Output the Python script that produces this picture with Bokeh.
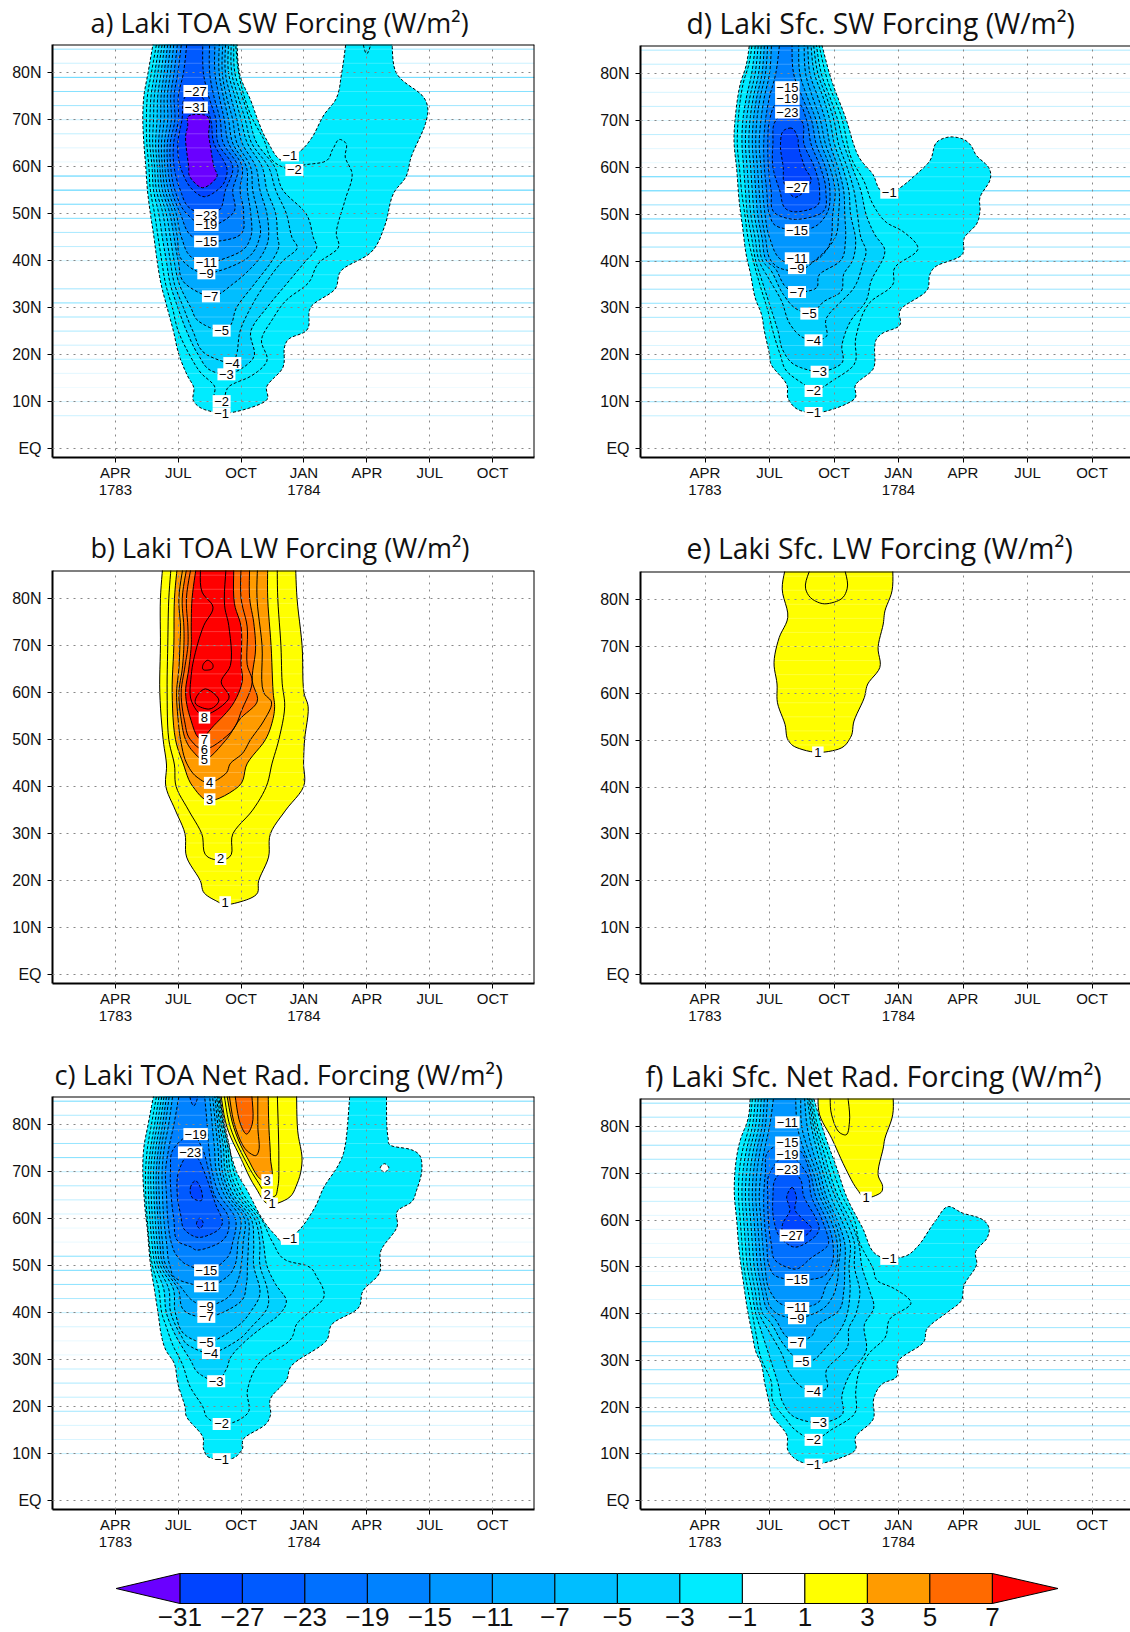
import numpy as np
from bokeh.plotting import figure
from bokeh.layouts import column, row
from bokeh.models import Range1d, FixedTicker, Span, ColumnDataSource
from bokeh.embed import file_html
from bokeh.resources import INLINE

# ---------- colour scale ----------
CB_LEVELS = [-31, -27, -23, -19, -15, -11, -7, -5, -3, -1, 1, 3, 5, 7]
CB_COLORS = ["#0044FF", "#005AFF", "#0070FF", "#0082FF", "#0096FF", "#00AAFF", "#00BEFF",
             "#00D2FF", "#00EBFF", "#FFFFFF", "#FFFF00", "#FF9B00", "#FF6A00"]
LOW_COLOR = "#6A00FF"
HIGH_COLOR = "#FF0000"
FILL = {-1: "#00EBFF", -3: "#00D2FF", -5: "#00BEFF", -7: "#00AAFF", -11: "#0096FF", -15: "#0082FF",
        -19: "#0070FF", -23: "#005AFF", -27: "#0044FF", -31: "#6A00FF",
        1: "#FFFF00", 3: "#FF9B00", 5: "#FF6A00", 7: "#FF0000"}

# ---------- axes ----------
MONTH_TICKS = [3, 6, 9, 12, 15, 18, 21]
MONTH_LABELS = ["APR\n1783", "JUL", "OCT", "JAN\n1784", "APR", "JUL", "OCT"]
LAT_TICKS = [0, 10, 20, 30, 40, 50, 60, 70, 80]
LAT_LABELS = ["EQ", "10N", "20N", "30N", "40N", "50N", "60N", "70N", "80N"]
STRIPE_LATS = [85, 82, 79, 76, 73, 70, 67, 64, 61, 58, 55, 52, 49, 46, 43, 40, 37, 34, 31, 28, 25, 22, 19, 16, 13, 10, 7]

# ---------- panel a: contours as (level, [(month, latitude), ...]) ----------
A_STRIPES = [.5, .25, .8, .65, .5, .25, .3, .15, .1, .85, .9, .7, .65, .45, .35, .2, 0, .45, .6, .45, .4, .25, .3, .15, .08, .2, .25]
A_CONTOURS = [
 (-1, [(4.87,88),(4.56,80),(4.36,75),(4.31,70),(4.36,65),(4.45,60),(4.53,55),(4.67,50),(4.84,45),(4.99,40),(5.18,35),(5.47,30),(5.77,25),(6.03,20),(6.44,15.5),(6.74,13),(6.74,10),(7.25,8.3),(8.0,7.6),(8.44,7.6),(10.14,10),(10.23,13.3),(10.99,17.2),(11.08,21.8),(11.33,23.5),(12.1,25),(12.35,30.3),(13.46,33.8),(13.8,38),(15.16,41.6),(15.84,47.2),(16.27,54.3),(16.86,57.8),(17.12,62.1),(17.8,69.2),(17.9,72.7),(17.63,75.2),(16.69,78.4),(16.35,80.5),(16.18,88),(14.05,88),(13.8,80),(13.54,74.5),(12.95,71),(12.35,66),(11.76,63.1),(11.0,61.3),(10.23,65.6),(9.8,69.9),(9.46,74.1),(8.95,79.4),(8.78,88)]),
 (-2, [(5.04,88),(4.72,80),(4.53,75),(4.48,70),(4.5,65),(4.6,60),(4.67,55),(4.87,50),(5.04,45),(5.21,40),(5.4,35),(5.72,30),(6.0,25),(6.57,19.7),(7.08,16.1),(7.73,13.3),(7.76,10.5),(8.07,10.1),(8.44,13.3),(9.46,15.4),(10.23,18.6),(9.97,23.1),(10.48,27.4),(11.16,31.6),(12.2,35.2),(12.7,39.5),(13.63,42.7),(13.54,45.9),(13.97,53),(14.3,58.4),(13.97,62),(14.0,65),(13.7,65.8),(13.37,63.7),(12.95,61),(11.93,60.3),(11.5,59.3),(10.65,60.7),(10.06,66),(9.46,71),(8.92,79),(8.7,88)]),
 (-2, [(14.73,88),(14.99,84),(15.33,88)]),
 (-3, [(5.16,88),(4.88,80),(4.70,75),(4.65,70),(4.64,65),(4.75,60),(4.82,55),(5.07,50),(5.24,45),(5.43,40),(5.62,35),(5.98,30),(6.4,25),(6.95,20),(7.6,16.5),(8.3,15.8),(9.55,19),(9.46,25),(10.23,30),(11.16,35),(12.1,40),(12.6,42.6),(12.44,45),(12.1,50),(10.99,55),(10.6,60),(9.75,65),(9.4,70),(9.05,75),(8.7,80),(8.65,88)]),
 (-4, [(5.30,88),(5.03,80),(4.86,75),(4.82,70),(4.78,65),(4.87,60),(4.96,55),(5.27,50),(5.44,45),(5.62,40),(5.82,35),(6.25,30),(6.7,25),(7.35,20),(8.55,18.2),(8.78,20),(8.95,25),(9.46,30),(10.14,35),(11.0,40),(11.67,42.6),(11.42,45),(11.16,50),(10.65,55),(10.3,60),(9.5,65),(9.2,70),(8.85,75),(8.55,80),(8.53,88)]),
 (-5, [(5.41,88),(5.18,80),(5.02,75),(4.99,70),(4.92,65),(5.0,60),(5.1,55),(5.43,50),(5.62,45),(5.8,40),(6.05,35),(6.6,30),(7.0,27),(8.0,25.1),(8.44,26),(8.78,30),(9.63,35),(10.48,40),(10.8,43),(10.74,45),(10.65,50),(10.23,55),(10.0,60),(9.3,65),(9.0,70),(8.7,75),(8.4,80),(8.41,88)]),
 (-7, [(5.55,88),(5.33,80),(5.18,75),(5.16,70),(5.06,65),(5.12,60),(5.24,55),(5.6,50),(5.8,45),(6.0,40),(6.35,35),(7.6,32.4),(8.6,35),(9.8,40),(10.2,43),(10.31,45),(10.23,50),(9.9,55),(9.7,60),(9.05,65),(8.8,70),(8.5,75),(8.25,80),(8.27,88)]),
 (-9, [(5.69,88),(5.48,80),(5.33,75),(5.33,70),(5.2,65),(5.24,60),(5.38,55),(5.75,50),(5.96,45),(6.2,40),(7.3,37.3),(9.12,40),(9.89,45),(9.8,50),(9.55,55),(9.45,60),(8.8,65),(8.6,70),(8.3,75),(8.1,80),(8.14,88)]),
 (-11, [(5.84,88),(5.63,80),(5.48,75),(5.5,70),(5.34,65),(5.36,60),(5.52,55),(5.9,50),(6.15,45),(6.7,40.5),(7.4,39.5),(7.9,40),(9.0,42),(9.46,45),(9.46,50),(9.3,55),(9.25,60),(8.6,65),(8.4,70),(8.15,75),(7.95,80),(7.97,88)]),
 (-15, [(6.01,88),(5.8,80),(5.64,75),(5.67,70),(5.48,65),(5.5,60),(5.68,55),(6.1,50),(6.7,45),(7.4,44),(8.78,45),(9.12,50),(8.95,55),(9.05,60),(8.4,65),(8.2,70),(7.95,75),(7.75,80),(7.76,88)]),
 (-19, [(6.2,88),(5.98,80),(5.8,75),(5.84,70),(5.62,65),(5.64,60),(5.84,55),(6.4,50),(7.4,47.2),(8.6,50),(8.6,55),(8.85,60),(8.15,65),(8.0,70),(7.7,75),(7.5,80),(7.5,88)]),
 (-23, [(6.45,88),(6.25,80),(6.0,75),(6.01,70),(5.78,65),(5.8,60),(6.1,55),(6.6,51),(7.4,49.7),(7.9,50.5),(8.25,55),(8.6,60),(7.9,65),(7.8,70),(7.45,75),(7.2,80),(7.17,88)]),
 (-27, [(6.75,76),(6.35,75),(6.18,70),(5.98,65),(6.1,60),(6.7,55),(7.25,53.6),(8.0,55.5),(8.3,58),(8.3,60),(7.7,65),(7.55,70),(7.1,75)]),
 (-31, [(6.6,71),(6.45,68.5),(6.35,66.3),(6.5,60),(6.56,57.8),(7.17,55.5),(7.84,57.8),(7.7,60),(7.46,66.3),(7.25,71)]),
]
A_LABELS = [("−27",6.83,76.1),("−31",6.83,72.6),("−23",7.34,49.7),("−19",7.34,47.6),("−15",7.34,44.1),("−11",7.34,39.5),("−9",7.34,37.3),("−7",7.56,32.4),("−5",8.07,25.1),("−4",8.58,18.2),("−3",8.3,15.8),("−2",8.07,10.1),("−1",8.07,7.5),("−1",11.33,62.4),("−2",11.54,59.3)]

# ---------- panel b ----------
B_STRIPES = None
B_CONTOURS = [
 (1, [(5.28,88),(5.15,80),(5.15,70),(5.12,60),(5.28,50),(5.44,44.6),(5.41,40),(5.86,35),(6.32,30),(6.4,25),(7.05,20),(7.25,17.3),(7.76,15.8),(8.27,14.9),(9.12,15.7),(9.72,17),(9.84,20),(10.31,25),(10.4,30),(11.13,35),(11.98,40),(11.98,45),(12.03,50),(12.2,57),(12.0,60),(11.91,70),(11.67,80),(11.59,88)]),
 (2, [(5.68,88),(5.55,80),(5.5,70),(5.47,60),(5.55,50),(5.82,44.6),(5.9,40),(6.49,35),(7.12,30),(7.42,25),(8.0,24.3),(8.44,25),(8.61,30),(9.55,35),(10.2,40),(10.48,45),(10.8,50),(11.08,57),(10.96,62),(10.9,70),(10.75,80),(10.72,88)]),
 (3, [(5.98,88),(5.82,80),(5.79,70),(5.71,60),(5.87,50),(6.23,45),(6.7,40),(7.5,37),(8.87,40),(9.3,45),(10.16,50),(10.5,54),(10.6,57),(10.53,60),(10.43,70),(10.27,80),(10.27,88)]),
 (4, [(6.27,88),(6.03,80),(6.11,74),(6.08,70),(6.03,65),(5.92,60),(6.0,54),(6.11,50),(6.4,45),(6.9,42),(7.45,40.8),(8.25,42.7),(8.5,45),(9.05,47),(9.45,50),(10.08,54),(10.45,58),(10.08,60),(10.0,70),(9.76,80),(9.79,88)]),
 (5, [(6.46,88),(6.19,80),(6.27,74),(6.27,70),(6.19,65),(6.03,60),(6.15,54),(6.35,50),(6.7,47.5),(7.22,45.7),(8.25,49.8),(8.97,54.5),(9.76,58),(9.53,62.6),(9.69,69.3),(9.6,75),(9.41,80),(9.41,88)]),
 (6, [(6.66,88),(6.39,80),(6.46,74),(6.46,70),(6.3,65),(6.14,60),(6.3,54),(6.58,50),(7.22,47.9),(8.49,51.5),(9.05,56.5),(9.53,62.3),(9.29,66),(9.29,74),(9.0,80),(9.0,88)]),
 (7, [(6.9,88),(6.66,80),(6.62,74),(6.62,70),(6.5,65),(6.35,60),(6.55,55),(7.06,50.2),(7.7,53),(8.57,57.3),(9.05,62.3),(9.0,66),(9.0,74),(8.68,79),(8.65,88)]),
 (8, [(7.06,88),(7.14,81.4),(7.66,78.2),(7.22,74.3),(6.82,68.6),(6.62,63.7),(6.65,58),(7.22,55.2),(8.41,58.7),(8.05,62.3),(8.49,65.8),(8.41,74.3),(8.21,78.6),(8.3,88)]),
 (9, [(7.19,66),(7.41,66.9),(7.65,66),(7.54,64.9),(7.25,64.8)]),
 (9, [(6.87,59.1),(7.3,60.8),(7.94,58.4),(7.46,56.5),(6.9,57.3)]),
]
B_LABELS = [("8",7.25,54.7),("7",7.25,50),("6",7.25,47.9),("5",7.25,45.8),("4",7.5,40.8),("3",7.5,37.3),("2",8.02,24.6),("1",8.24,15.4)]

# ---------- panel c ----------
C_STRIPES = [.7, .4, .15, .55, .65, .3, .4, .3, .2, .1, .1, .6, .7, .6, .45, .3, .2, .1, .1, .3, .4, .3, .45, .2, .2, .3, 0]
C_CONTOURS = [
 (-1, [(4.9,88),(4.56,80),(4.36,75.2),(4.31,70),(4.41,62.4),(4.53,57.5),(4.67,50.4),(4.87,44.7),(5.04,39.8),(5.21,34.8),(5.41,32),(5.81,29.2),(5.98,24.9),(6.32,20),(6.4,17.8),(7.17,13.6),(7.22,10.8),(7.59,9),(8.44,8.8),(9.04,10.8),(9.12,13.2),(10.14,16.1),(10.4,18.2),(10.4,21.7),(11.16,25.6),(11.42,28.8),(13.03,33.8),(13.37,37.7),(14.56,40.8),(14.82,44.7),(15.59,48.3),(15.67,53.2),(16.44,58.2),(16.47,61.7),(17.12,63.5),(17.37,66),(17.63,70.6),(17.46,73.8),(17.03,74.8),(16.18,75.5),(16.01,77.3),(15.93,88),(14.22,88),(13.92,74.5),(13.63,71.3),(12.95,66.7),(12.52,62.4),(11.67,57.1),(11.0,55),(10.65,56.4),(10.06,59.6),(9.29,66),(8.78,70),(8.19,80),(7.93,88)]),
 (-2, [(5.04,88),(4.72,80),(4.53,75),(4.44,70),(4.45,65),(4.52,60),(4.61,55),(4.77,50),(5.07,45),(5.21,40),(5.43,37),(5.75,33),(6.2,29),(6.57,24.2),(7.17,20),(7.42,17.5),(8.0,16.3),(8.44,16.4),(9.3,18.5),(9.3,23.5),(9.97,29.9),(11.33,34.1),(11.67,37.7),(12.18,39.8),(12.95,43.3),(12.61,47.6),(12.18,49.9),(11.16,51.1),(10.5,55),(9.96,60),(9.13,65),(8.65,70),(8.46,75),(8.22,80),(7.92,88)]),
 (-3, [(5.15,88),(4.87,80),(4.68,75),(4.57,70),(4.58,65),(4.65,60),(4.74,55),(4.9,50),(5.31,45),(5.43,40),(5.89,35),(6.57,30),(7.0,27),(7.8,25.4),(8.3,28),(8.5,30.5),(9.1,33.5),(9.9,36.5),(10.8,39.5),(11.16,42.5),(10.65,46),(10.23,50),(10.06,55),(9.8,60),(8.97,65),(8.49,70),(8.37,75),(8.14,80),(7.87,88)]),
 (-4, [(5.28,88),(5.0,80),(4.8,75),(4.69,70),(4.71,65),(4.77,60),(4.87,55),(5.03,50),(5.55,45),(5.64,40),(6.15,35),(6.5,33),(7.5,31.4),(8.8,34),(9.5,37),(10.25,41),(10.25,45),(9.9,50),(9.89,55),(9.64,60),(8.81,65),(8.37,70),(8.27,75),(8.06,80),(7.82,88)]),
 (-5, [(5.39,88),(5.12,80),(4.93,75),(4.82,70),(4.84,65),(4.9,60),(4.99,55),(5.15,50),(5.77,45),(5.86,40),(6.4,35),(7.3,33.6),(8.8,37),(9.5,40.5),(9.9,44),(9.6,50),(9.6,55),(9.48,60),(8.65,65),(8.24,70),(8.16,75),(7.98,80),(7.78,88)]),
 (-7, [(5.5,88),(5.25,80),(5.06,75),(4.95,70),(4.96,65),(5.03,60),(5.12,55),(5.28,50),(5.99,45),(6.4,40),(7.3,39),(8.9,42),(9.25,46),(9.3,50),(9.35,55),(9.32,60),(8.51,65),(8.11,70),(8.03,75),(7.89,80),(7.7,88)]),
 (-9, [(5.63,88),(5.38,80),(5.19,75),(5.07,70),(5.09,65),(5.15,60),(5.25,55),(5.41,50),(6.2,45),(6.7,42.5),(7.3,41.3),(8.3,43),(8.85,47),(9.0,50),(9.1,55),(9.16,60),(8.37,65),(7.98,70),(7.9,75),(7.78,80),(7.59,88)]),
 (-11, [(5.79,88),(5.54,80),(5.33,75),(5.23,70),(5.25,65),(5.31,60),(5.44,55),(5.6,50),(6.0,47),(7.4,45.6),(8.3,47.5),(8.7,50),(8.85,55),(8.97,60),(8.21,65),(7.82,70),(7.73,75),(7.62,80),(7.46,88)]),
 (-15, [(6.11,88),(5.79,80),(5.55,75),(5.39,70),(5.44,65),(5.5,60),(5.66,55),(5.95,52),(6.5,50),(7.4,49),(8.3,51.5),(8.6,55),(8.73,60),(7.98,65),(7.62,70),(7.46,75),(7.38,80),(7.22,88)]),
 (-19, [(6.65,78),(5.79,75),(5.63,70),(5.66,65),(5.79,60),(6.03,55),(6.6,54),(6.9,53.3),(8.02,55),(8.41,60),(7.73,65),(7.46,70),(7.14,75)]),
 (-19, [(6.58,88),(6.58,85.4),(6.74,84),(6.9,85.4),(6.9,88)]),
 (-23, [(6.57,74),(6.03,70.2),(5.95,65.2),(6.11,61),(6.35,57.4),(6.98,56),(7.7,57),(8.1,58.9),(7.78,63.1),(7.22,70.2),(6.9,73)]),
 (-27, [(6.58,66.6),(6.82,68.1),(7.11,65.9),(7.06,63.8),(6.74,64.2)]),
 (-27, [(6.87,58.9),(7.03,60.1),(7.19,59),(7.03,57.9)]),
 (1, [(7.98,88),(8.33,79.4),(8.97,73),(9.68,66.7),(10.4,63),(11.2,64.2),(11.67,67.4),(11.91,72.3),(11.7,78.7),(11.64,88)]),
 (2, [(8.13,88),(8.49,79.4),(9.13,73),(9.76,68.1),(10.32,64.9),(10.56,64.7),(10.75,66.7),(10.8,72.3),(10.72,88)]),
 (3, [(8.25,88),(8.65,79.4),(9.29,73),(10.08,68.1),(10.37,68.4),(10.4,73),(10.32,80.1),(10.29,88)]),
 (4, [(8.37,88),(8.73,79.4),(9.29,74.4),(9.68,73.4),(9.84,74.4),(9.8,79.4),(9.8,88)]),
 (5, [(8.65,88),(8.97,80.1),(9.26,78),(9.53,80.1),(9.49,88)]),
 ("hole", [(15.64,70.8),(15.84,71.7),(16.05,70.8),(15.84,69.9)]),
]
C_LABELS = [("−19",6.83,78),("−23",6.57,74.1),("−15",7.34,49),("−11",7.34,45.6),("−9",7.34,41.3),("−7",7.34,39.1),("−5",7.34,33.6),("−4",7.56,31.4),("−3",7.81,25.4),("−2",8.07,16.3),("−1",8.07,8.8),("−1",11.33,55.7),("3",10.24,68.2),("2",10.24,65.1),("1",10.48,63.2)]

# ---------- panel d ----------
D_STRIPES = [.4, .3, .15, .2, .3, .15, .35, .15, .1, .8, .85, .5, .75, .7, .5, .8, .55, .5, .55, .45, .3, .2, .4, .4, .3, .5, .3]
D_CONTOURS = [
 (-1, [(5.12,88),(4.91,81.7),(4.64,77.8),(4.44,72.1),(4.35,65.7),(4.48,59.3),(4.59,52.8),(4.75,47.2),(4.91,41.5),(5.12,37.2),(5.33,32.2),(5.63,28.6),(5.76,25.1),(6.0,20.1),(6.08,17.9),(6.8,13.7),(6.88,10.5),(7.44,8.1),(8.09,7.6),(8.73,8.1),(9.93,10.5),(10.01,13.7),(10.81,16.9),(10.89,21.5),(10.97,23.3),(11.29,24.7),(12.02,26.1),(12.1,29.7),(13.3,33.6),(13.46,37.2),(13.78,39),(14.9,41.1),(15.06,45),(15.63,47.9),(15.79,50.7),(15.79,53.6),(16.27,57.5),(16.19,60),(15.63,62.5),(15.31,65),(14.9,66.2),(14.42,66.5),(13.86,65.7),(13.46,61.4),(12.82,58.5),(11.94,55.3),(11.5,54.6),(11.2,55),(10.81,58.5),(10.17,62.1),(9.53,70.7),(8.89,78.5),(8.33,88)]),
 (-2, [(5.25,88),(5.04,82),(4.78,78),(4.58,72),(4.5,65),(4.6,60),(4.7,55),(4.85,50),(5.0,45),(5.25,40),(5.55,35),(5.95,29),(6.16,25),(6.5,20),(6.8,16.5),(7.6,13.7),(8.06,12.3),(9.0,14.7),(9.93,17.9),(10.01,23.6),(10.65,31.1),(11.7,34.7),(11.85,38.8),(12.9,42.5),(12.18,46.4),(11.45,48.2),(10.81,52.1),(10.4,57),(9.8,62),(9.35,70.7),(8.7,78.5),(8.21,88)]),
 (-3, [(5.39,88),(5.17,80),(4.93,75),(4.76,70),(4.72,65),(4.8,60),(4.88,55),(4.97,50),(5.17,45),(5.36,40),(5.6,36.5),(6.0,30.8),(6.4,25),(6.64,20.8),(7.28,17.6),(8.33,16.4),(9.29,17.9),(9.37,22.2),(9.77,27.2),(10.49,31.5),(10.73,35.8),(11.37,42.2),(10.89,45.7),(10.49,50),(10.25,55),(9.85,60),(9.45,65),(9.18,70),(8.81,75),(8.41,80),(8.12,88)]),
 (-4, [(5.52,88),(5.33,80),(5.09,75),(4.93,70),(4.88,65),(4.96,60),(5.04,55),(5.13,50),(5.33,45),(5.52,40),(6.0,36),(6.56,31.5),(6.96,26.5),(7.6,23.6),(8.09,23.1),(8.57,23.6),(8.65,27.9),(9.93,34.3),(10.33,39.3),(10.49,42.2),(10.25,45),(10.09,50),(9.93,55),(9.61,60),(9.21,65),(9.0,70),(8.65,75),(8.25,80),(8.0,88)]),
 (-5, [(5.65,88),(5.49,80),(5.25,75),(5.09,70),(5.04,65),(5.12,60),(5.2,55),(5.29,50),(5.49,45),(5.68,40),(6.08,37.9),(6.64,32.9),(7.28,29.7),(7.85,28.8),(8.57,31.5),(9.29,33.3),(9.45,37.2),(9.85,40),(10.01,44.3),(9.77,50),(9.69,55),(9.4,60),(9.02,65),(8.81,70),(8.49,75),(8.09,80),(7.89,88)]),
 (-7, [(5.79,88),(5.65,80),(5.41,75),(5.25,70),(5.2,65),(5.28,60),(5.36,55),(5.45,50),(5.65,45),(5.87,40),(6.24,38.6),(6.8,34.3),(7.28,33.3),(8.09,34),(8.33,37.2),(9.29,40),(9.53,44.3),(9.5,50),(9.45,55),(9.18,60),(8.81,65),(8.6,70),(8.25,75),(7.88,80),(7.76,88)]),
 (-9, [(5.94,88),(5.81,80),(5.57,75),(5.41,70),(5.36,65),(5.44,60),(5.52,55),(5.62,50),(5.81,45),(6.08,40),(6.6,38.3),(7.28,37.9),(8.25,40.7),(9.05,45),(9.21,50),(9.24,55),(9.0,60),(8.6,65),(8.37,70),(8.0,75),(7.68,80),(7.6,88)]),
 (-11, [(6.11,88),(6.0,80),(5.76,75),(5.6,70),(5.52,65),(5.6,60),(5.68,55),(5.79,50),(6.0,45),(6.64,40),(7.28,39.3),(7.93,39.7),(8.73,42.9),(8.94,50),(9.05,55),(8.81,60),(8.41,65),(8.17,70),(7.76,75),(7.41,80),(7.36,88)]),
 (-15, [(6.51,88),(6.29,80),(6.0,75),(5.81,70),(5.73,65),(5.76,60),(5.87,55),(6.0,50),(6.4,47.3),(7.28,46.6),(7.93,47),(8.65,50),(8.81,55),(8.6,60),(8.17,65),(7.96,70),(7.52,75),(7.12,80),(7.04,88)]),
 (-19, [(6.83,74.6),(6.4,74),(6.0,70),(5.92,65),(5.95,60),(6.08,55),(6.32,50),(7.2,48.9),(8.33,50),(8.62,55),(8.37,60),(7.93,65),(7.73,70),(7.28,74)]),
 (-23, [(6.83,71.7),(6.29,70),(6.16,65),(6.16,60),(6.48,55),(6.8,51),(7.2,50.5),(8.09,51.4),(8.33,55),(8.09,60),(7.6,65),(7.48,70)]),
 (-27, [(7.0,68.4),(6.7,68),(6.51,65),(6.64,60),(6.7,56.4),(7.2,53.6),(7.93,57),(7.64,60),(7.33,65),(7.33,66)]),
]
D_LABELS = [("−15",6.83,77.1),("−19",6.83,74.6),("−23",6.83,71.7),("−27",7.28,55.8),("−15",7.28,46.6),("−11",7.28,40.6),("−9",7.28,38.5),("−7",7.28,33.4),("−5",7.85,28.8),("−4",8.05,23.1),("−3",8.33,16.4),("−2",8.05,12.3),("−1",8.05,7.6),("−1",11.57,54.6)]

# ---------- panel e ----------
E_STRIPES = None
E_CONTOURS = [
 (1, [(6.8,88),(6.59,82.3),(6.85,76.2),(6.45,71.9),(6.21,66.6),(6.35,62),(6.37,58),(6.72,53.4),(6.88,49.9),(7.28,48.4),(8.25,47.4),(9.21,48.1),(9.77,50.6),(9.93,54.1),(10.41,59.1),(10.57,62),(11.13,65.5),(11.05,69.8),(11.29,74.8),(11.37,77.6),(11.7,81.9),(11.73,88)]),
 (2, [(8.0,88),(7.68,82.3),(8.09,79.8),(8.57,79.1),(9.21,79.8),(9.61,82.3),(9.42,88)]),
]
E_LABELS = [("1",8.25,47.4)]

# ---------- panel f ----------
F_STRIPES = [.55, .45, .35, .5, .45, .2, .2, .3, .15, .15, .1, .25, .1, .65, .15, .15, .5, .7, .5, .6, .45, .4, .55, .5, .4, .5, .4]
F_CONTOURS = [
 (-1, [(5.12,88),(5.01,81.8),(4.64,77.1),(4.44,72.5),(4.36,66.1),(4.48,59.7),(4.59,53.3),(4.8,46.2),(4.96,41.2),(5.2,35.5),(5.36,31.9),(5.63,29.1),(5.76,25.5),(6.0,20.5),(6.08,18.4),(6.8,14.1),(6.88,10.5),(7.44,8.3),(8.09,7.7),(8.73,8.3),(9.93,10.5),(10.01,13.7),(10.81,17.3),(10.85,21.9),(11.29,25.1),(11.86,26.2),(12.02,30.1),(13.14,33.7),(13.35,36.9),(14.34,40.5),(14.9,42.6),(15.06,46.2),(15.63,50.4),(15.59,53.3),(16.11,56.1),(16.19,58.6),(15.79,60.4),(14.98,61.5),(14.34,62.9),(13.7,59.7),(12.82,54),(12.26,52.2),(11.54,51.7),(10.97,52.6),(10.33,58.3),(9.61,64.7),(9.13,71.1),(8.57,78.2),(7.93,88)]),
 (-2, [(5.25,88),(5.05,80),(4.75,75),(4.59,70),(4.56,65),(4.64,60),(4.72,55),(4.81,50),(5.0,45),(5.2,40),(5.4,35),(5.6,30.5),(6.08,25.5),(6.16,21.2),(6.72,17.7),(7.28,14.8),(8.05,13),(8.89,15.2),(9.93,18.4),(10.01,23.4),(10.17,27.6),(10.65,31.6),(11.37,34.8),(11.62,39),(12.58,42.2),(11.78,45.4),(11.05,46.9),(10.81,49.7),(10.17,55.4),(9.95,60),(9.4,65),(9.0,70),(8.65,75),(8.25,80),(7.87,88)]),
 (-3, [(5.39,88),(5.2,80),(4.93,75),(4.76,70),(4.72,65),(4.8,60),(4.88,55),(4.97,50),(5.17,45),(5.36,40),(5.6,36.5),(6.0,30.8),(6.4,25),(6.64,20.8),(7.28,17.6),(8.33,16.6),(9.29,18),(9.37,22.6),(9.77,27.3),(10.49,31.9),(10.41,37.6),(10.85,41.2),(10.65,45),(10.3,50),(10.15,55),(9.75,60),(9.2,65),(8.8,70),(8.5,75),(8.15,80),(7.8,88)]),
 (-4, [(5.52,88),(5.35,80),(5.09,75),(4.93,70),(4.88,65),(4.96,60),(5.04,55),(5.13,50),(5.33,45),(5.52,40),(6.0,36),(6.56,31.5),(6.96,27),(7.6,24),(8.05,23.4),(8.57,23.7),(8.65,28),(9.6,32.6),(9.69,36.9),(10.0,39.7),(10.17,43),(10.2,45),(9.95,50),(9.95,55),(9.55,60),(9.05,65),(8.65,70),(8.35,75),(8.05,80),(7.76,88)]),
 (-5, [(5.65,88),(5.5,80),(5.25,75),(5.09,70),(5.04,65),(5.12,60),(5.2,55),(5.29,50),(5.49,45),(5.68,40),(6.08,37.9),(6.64,33.5),(7.28,30.5),(7.85,29.8),(8.73,33.3),(9.29,36.5),(9.6,39.7),(9.75,45),(9.7,50),(9.75,55),(9.35,60),(8.85,65),(8.5,70),(8.2,75),(7.95,80),(7.7,88)]),
 (-7, [(5.79,88),(5.65,80),(5.41,75),(5.25,70),(5.2,65),(5.28,60),(5.36,55),(5.45,50),(5.65,45),(5.87,41),(6.3,38.6),(6.8,35),(7.28,33.8),(7.93,35.1),(8.25,37.6),(9.2,40.5),(9.45,44.7),(9.5,50),(9.5,55),(9.15,60),(8.65,65),(8.35,70),(8.0,75),(7.75,80),(7.6,88)]),
 (-9, [(5.94,88),(5.8,80),(5.57,75),(5.41,70),(5.36,65),(5.44,60),(5.52,55),(5.62,50),(5.81,45),(6.1,41),(6.6,39.5),(7.28,39),(8.3,40.5),(8.9,43.3),(9.18,47.6),(9.2,50),(9.3,55),(9.0,60),(8.5,65),(8.2,70),(7.8,75),(7.5,80),(7.45,88)]),
 (-11, [(6.24,88),(6.0,80),(5.76,75),(5.6,70),(5.52,65),(5.6,60),(5.68,55),(5.79,50),(6.0,45),(6.64,41.8),(7.28,41.2),(8.1,41.9),(8.65,46.2),(9.08,49.7),(9.15,55),(8.85,60),(8.35,65),(8.05,70),(7.6,75),(7.3,80),(7.2,88)]),
 (-15, [(6.83,76.6),(6.0,75),(5.81,70),(5.73,65),(5.76,60),(5.87,55),(6.0,50),(6.4,47.8),(7.28,47.2),(8.3,47.6),(8.85,50),(8.95,55),(8.65,60),(8.15,65),(7.9,70),(7.4,75)]),
 (-19, [(6.83,74.1),(6.0,70),(5.92,65),(5.95,60),(6.08,55),(6.35,51),(7.2,49.5),(7.93,51.9),(8.6,54),(8.75,55),(8.45,60),(7.95,65),(7.73,70)]),
 (-23, [(6.83,70.9),(6.3,69),(6.16,65),(6.2,60),(6.55,56),(7.2,54.2),(8.0,56),(8.3,58),(8.2,60),(7.6,65),(7.4,69)]),
 (-27, [(7.05,67),(6.8,65),(6.9,63.2),(6.95,62),(6.6,59),(6.7,57),(7.3,56),(7.95,58),(7.6,60),(7.2,62),(7.25,65)]),
 (1, [(8.25,88),(8.33,82.5),(8.89,77.5),(9.53,71.1),(10.09,66.5),(10.49,64.7),(11.13,65.7),(11.26,67.2),(11.05,69.7),(11.29,75.4),(11.37,77.5),(11.73,82.5),(11.74,88)]),
 (2, [(8.81,88),(8.89,82.5),(9.29,78.6),(9.53,78.2),(9.72,81),(9.61,88)]),
]
F_LABELS = [("−11",6.83,80.9),("−15",6.83,76.6),("−19",6.83,74.1),("−23",6.83,70.9),("−27",7.04,56.7),("−15",7.28,47.2),("−11",7.28,41.2),("−9",7.28,39),("−7",7.28,33.8),("−5",7.52,29.8),("−4",8.05,23.4),("−3",8.33,16.6),("−2",8.05,13),("−1",8.05,7.7),("−1",11.57,51.7),("1",10.49,64.8)]

FONT = "Liberation Sans"
TITLE_FONT = "Open Sans"


def spline_chain(P, closed):
    """Centripetal Catmull-Rom through the contour's read-off points."""
    P = np.asarray(P, dtype=float)
    if closed:
        Q = np.vstack([P[-1], P, P[0], P[1]])
    else:
        Q = np.vstack([2 * P[0] - P[1], P, 2 * P[-1] - P[-2]])
    out = []
    for i in range(len(Q) - 3):
        p0, p1, p2, p3 = Q[i], Q[i + 1], Q[i + 2], Q[i + 3]
        t1 = np.linalg.norm(p1 - p0) ** .5
        t2 = t1 + np.linalg.norm(p2 - p1) ** .5
        t3 = t2 + np.linalg.norm(p3 - p2) ** .5
        t = np.linspace(t1, t2, 6, endpoint=False)[:, None]
        a1 = (t1 - t) / t1 * p0 + t / t1 * p1
        a2 = (t2 - t) / (t2 - t1) * p1 + (t - t1) / (t2 - t1) * p2
        a3 = (t3 - t) / (t3 - t2) * p2 + (t - t2) / (t3 - t2) * p3
        b1 = (t2 - t) / t2 * a1 + t / t2 * a2
        b2 = (t3 - t) / (t3 - t1) * a2 + (t - t1) / (t3 - t1) * a3
        out.append((t2 - t) / (t2 - t1) * b1 + (t - t1) / (t2 - t1) * b2)
    out = np.vstack(out)
    if not closed:
        out = np.vstack([out, P[-1]])
    return out


def smooth(pts):
    """Smooth a contour; runs above the frame top (lat 88) split it into open chains."""
    n = len(pts)
    breaks = [i for i in range(n) if pts[i][1] >= 88 and pts[(i + 1) % n][1] >= 88]
    if not breaks:
        out = spline_chain(pts, True)
        out = np.vstack([out, out[0]])
    else:
        parts = []
        for j, b in enumerate(breaks):
            end = breaks[(j + 1) % len(breaks)]
            count = (end - b - 1) % n + 1
            chain = [pts[(b + 1 + k) % n] for k in range(count)]
            parts.append(spline_chain(chain, False))
        out = np.vstack(parts + [parts[0][:1]])
    return out[:, 0], out[:, 1]


def panel(title, contours, labels, stripes, xend, bl, br, bt, bb, fw, fh, title_offset, title_size, standoff, lift):
    p = figure(width=bl + fw + br, height=bt + fh + bb, output_backend="svg", toolbar_location=None,
               x_range=Range1d(0, xend), y_range=Range1d(-1.9, 86), title=title,
               min_border_left=bl, min_border_right=br, min_border_top=bt, min_border_bottom=bb,
               margin=(-lift, 0, 0, 0))
    p.title.text_font = TITLE_FONT
    p.title.text_font_size = title_size
    p.title.text_font_style = "normal"
    p.title.text_color = "#111111"
    p.title.align = "left"
    p.title.offset = title_offset
    p.title.standoff = standoff
    p.outline_line_color = None
    p.xaxis.ticker = FixedTicker(ticks=MONTH_TICKS)
    p.xaxis.major_label_overrides = dict(zip(MONTH_TICKS, MONTH_LABELS))
    p.yaxis.ticker = FixedTicker(ticks=LAT_TICKS)
    p.yaxis.major_label_overrides = dict(zip(LAT_TICKS, LAT_LABELS))
    for ax in (p.xaxis[0], p.yaxis[0]):
        ax.axis_line_width = 2
        ax.axis_line_color = "black"
        ax.major_tick_line_color = "black"
        ax.major_tick_out = 5
        ax.major_tick_in = 0
        ax.minor_tick_line_color = None
        ax.major_label_text_font = FONT
        ax.major_label_text_color = "#111111"
    p.yaxis[0].major_label_text_font_size = "16px"
    p.yaxis[0].major_label_standoff = 6
    p.xaxis[0].major_label_text_font_size = "15px"
    p.xaxis[0].major_label_text_line_height = 1.0
    p.xaxis[0].major_label_standoff = 1
    for g in (p.xgrid[0], p.ygrid[0]):
        g.grid_line_color = "#888888"
        g.grid_line_dash = "2 5"
        g.grid_line_width = 1
        g.level = "guide"
    p.xgrid[0].ticker = FixedTicker(ticks=MONTH_TICKS)
    p.ygrid[0].ticker = FixedTicker(ticks=LAT_TICKS)

    if stripes is not None:
        p.segment(x0=0, x1=23, y0=STRIPE_LATS, y1=STRIPE_LATS, line_color="#12C4FF",
                  line_alpha=stripes, line_width=1)
    # contours, outermost first
    lines = []
    for level, pts in contours:
        xs, ys = smooth(pts)
        if level == "hole":
            p.patch(xs, ys, fill_color="#FFFFFF", line_color="black", line_width=1, line_dash="3 2")
            continue
        if level in FILL:
            p.patch(xs, ys, fill_color=FILL[level], line_color=None)
        lines.append((level, xs, ys))
    # faint light streaks over the colour fill
    p.segment(x0=0, x1=23, y0=STRIPE_LATS, y1=STRIPE_LATS, line_color="#FFFFFF", line_alpha=0.22, line_width=1)
    for level, xs, ys in lines:
        p.line(xs, ys, line_color="black", line_width=1, line_dash="3 2" if level < 0 else "solid")
    if labels:
        src = ColumnDataSource(dict(t=[l[0] for l in labels], x=[l[1] for l in labels], y=[l[2] for l in labels],
                                    w=[5 + 6.5 * len(l[0]) for l in labels]))
        p.rect(x="x", y="y", width="w", height=12, width_units="screen", height_units="screen", source=src,
               fill_color="white", line_color=None, level="annotation")
        p.text(x="x", y="y", text="t", source=src, text_font={"value": FONT}, text_font_size="13px",
               text_align="center", text_baseline="middle", text_color="black", level="annotation")
    p.add_layout(Span(dimension="width", location=86, line_color="black", line_width=2))
    if xend == 23:
        p.add_layout(Span(dimension="height", location=23, line_color="black", line_width=2))
    return p


# page cells: left column 590 wide with frame at x 52..534, right column 540 wide with frame from x 640
a = panel("a) Laki TOA SW Forcing (W/m²)", A_CONTOURS, A_LABELS, A_STRIPES, 23, 52, 56, 50, 62, 482, 414, 38, "27px", 8, 6)
b = panel("b) Laki TOA LW Forcing (W/m²)", B_CONTOURS, B_LABELS, B_STRIPES, 23, 52, 56, 51, 66, 482, 414, 38, "27px", 9, 1)
c = panel("c) Laki TOA Net Rad. Forcing (W/m²)", C_CONTOURS, C_LABELS, C_STRIPES, 23, 52, 56, 52, 46, 482, 414, 2, "27.3px", 8, 6)
d = panel("d) Laki Sfc. SW Forcing (W/m²)", D_CONTOURS, D_LABELS, D_STRIPES, 22.79, 50, 0, 50, 63, 490, 412, 46, "28.3px", 7, 5)
e = panel("e) Laki Sfc. LW Forcing (W/m²)", E_CONTOURS, E_LABELS, E_STRIPES, 22.79, 50, 0, 51, 67, 490, 412, 46, "28.3px", 9, 0)
f = panel("f) Laki Sfc. Net Rad. Forcing (W/m²)", F_CONTOURS, F_LABELS, F_STRIPES, 22.79, 50, 0, 51, 47, 490, 412, 5, "28.6px", 8, 4)

# colour bar
cb = figure(width=1130, height=76, output_backend="svg", toolbar_location=None,
            x_range=Range1d(-2.87, 15.21), y_range=Range1d(-0.967, 1.567),
            min_border_left=0, min_border_right=0, min_border_top=0, min_border_bottom=0)
cb.outline_line_color = None
cb.grid.visible = False
cb.axis.visible = False
idx = list(range(len(CB_LEVELS)))
cb.quad(left=idx[:-1], right=idx[1:], bottom=0, top=1, fill_color=CB_COLORS, line_color="black", line_width=1)
cb.patch([0, -1.02, 0], [0, 0.5, 1], fill_color=LOW_COLOR, line_color="black", line_width=1)
cb.patch([13, 14.05, 13], [0, 0.5, 1], fill_color=HIGH_COLOR, line_color="black", line_width=1)
cb.text(x=idx, y=[-0.45] * len(idx), text=[str(v).replace("-", "−") for v in CB_LEVELS],
        text_font={"value": FONT}, text_font_size="26px", text_align="center", text_baseline="middle",
        text_color="#111111")

page = column(row(a, d, spacing=0), row(b, e, spacing=0), row(c, f, spacing=0), cb, spacing=0)
open("out.html", "w").write(file_html(page, INLINE))
